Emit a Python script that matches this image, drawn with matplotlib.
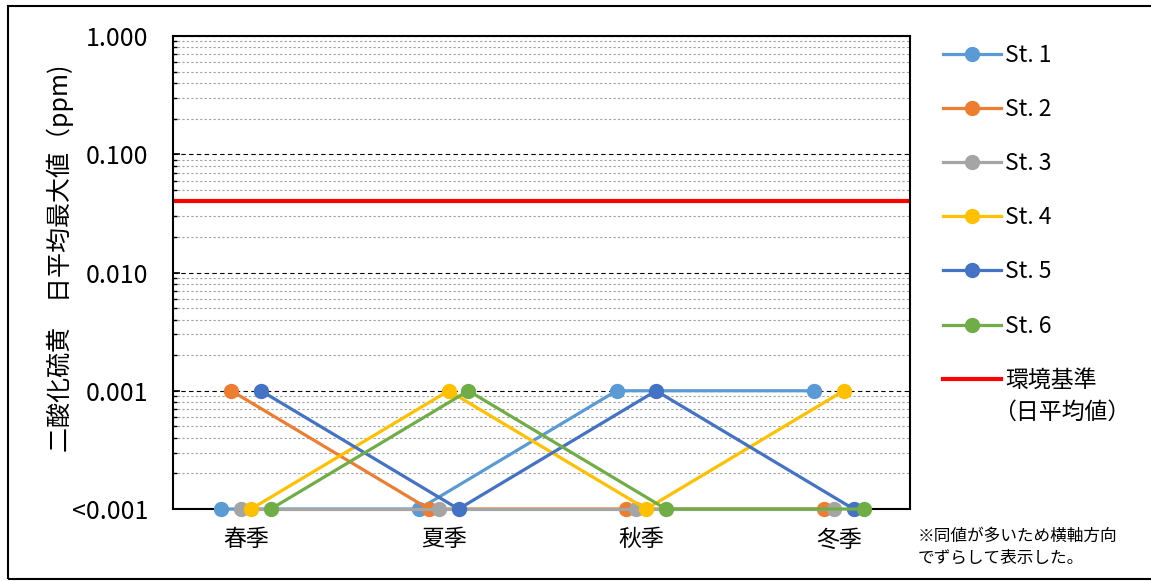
import matplotlib
matplotlib.use("Agg")
import matplotlib.pyplot as plt
import matplotlib.ticker as mticker
from matplotlib.patches import Rectangle
import numpy as np

plt.rcParams["font.family"] = ["Noto Sans CJK JP", "DejaVu Sans"]

seasons = ["春季", "夏季", "秋季", "冬季"]
stations = ["St. 1", "St. 2", "St. 3", "St. 4", "St. 5", "St. 6"]
colors = ["#5B9BD5", "#ED7D31", "#A5A5A5", "#FFC000", "#4472C4", "#70AD47"]

# 0.0001 stands for values below the 0.001 reporting limit
st1 = [0.0001, 0.0001, 0.001, 0.001]
st2 = [0.001, 0.0001, 0.0001, 0.0001]
st3 = [0.0001, 0.0001, 0.0001, 0.0001]
st4 = [0.0001, 0.001, 0.0001, 0.001]
st5 = [0.001, 0.0001, 0.001, 0.0001]
st6 = [0.0001, 0.001, 0.0001, 0.0001]
series = [st1, st2, st3, st4, st5, st6]

standard = 0.04
ytick_vals = [0.0001, 0.001, 0.01, 0.1, 1.0]
ytick_labels = ["<0.001", "0.001", "0.010", "0.100", "1.000"]

fig = plt.figure(figsize=(11.51, 5.81), dpi=100)
ax = fig.add_axes([0.1503, 0.1239, 0.6403, 0.8141])

x = np.arange(len(seasons))
shift = 0.05  # spread stations sideways so equal values stay visible
for i, (name, vals, c) in enumerate(zip(stations, series, colors)):
    ax.plot(x + (i - 2.5) * shift, vals, color=c, lw=2.3, marker="o",
            markersize=10, label=name, zorder=3 + i, clip_on=False)

ax.axhline(standard, color="#FF0000", lw=3, label="環境基準", zorder=2)

ax.set_yscale("log")
ax.set_ylim(0.0001, 1.0)
ax.set_xlim(-0.37, 3.36)
ax.yaxis.set_major_locator(mticker.FixedLocator(ytick_vals))
ax.yaxis.set_major_formatter(mticker.FixedFormatter(ytick_labels))
ax.yaxis.set_minor_locator(mticker.LogLocator(base=10, subs=np.arange(2, 10)))
ax.yaxis.set_minor_formatter(mticker.NullFormatter())
ax.grid(which="major", axis="y", color="black", ls=(0, (4, 3)), lw=0.8)
ax.grid(which="minor", axis="y", color="#A0A0A0", ls=(0, (2, 2)), lw=0.8)
ax.set_axisbelow(True)

ax.set_xticks(x)
ax.set_xticklabels(seasons, fontsize=16.5)
ax.tick_params(axis="x", length=0, pad=14)
ax.tick_params(axis="y", which="major", direction="in", length=5, width=1.2,
               labelsize=18, pad=18)
ax.tick_params(axis="y", which="minor", direction="in", length=3, width=1)
for s in ax.spines.values():
    s.set_linewidth(1.5)
    s.set_color("black")

ax.set_ylabel("二酸化硫黄　日平均最大値（ppm)", fontsize=18)
ax.yaxis.set_label_coords(-0.135, 0.53)

ax.legend(loc="upper left", bbox_to_anchor=(1.033, 1.003), frameon=False,
          fontsize=16.5, handlelength=2.5, handletextpad=0.2,
          labelspacing=1.36, borderaxespad=0)
# second line of the standard's legend label
fig.text(0.863, 1 - 412 / 581, "（日平均値）", fontsize=16.5,
         ha="left", va="center")

fig.text(0.797, 0.058, "※同値が多いため横軸方向\nでずらして表示した。",
         fontsize=12, va="center", ha="left", linespacing=1.35)

fig.add_artist(Rectangle((0.007, 0.003), 1.0, 0.987, transform=fig.transFigure,
                         fill=False, edgecolor="black", lw=1.5))

fig.savefig("out.png", dpi=100)
